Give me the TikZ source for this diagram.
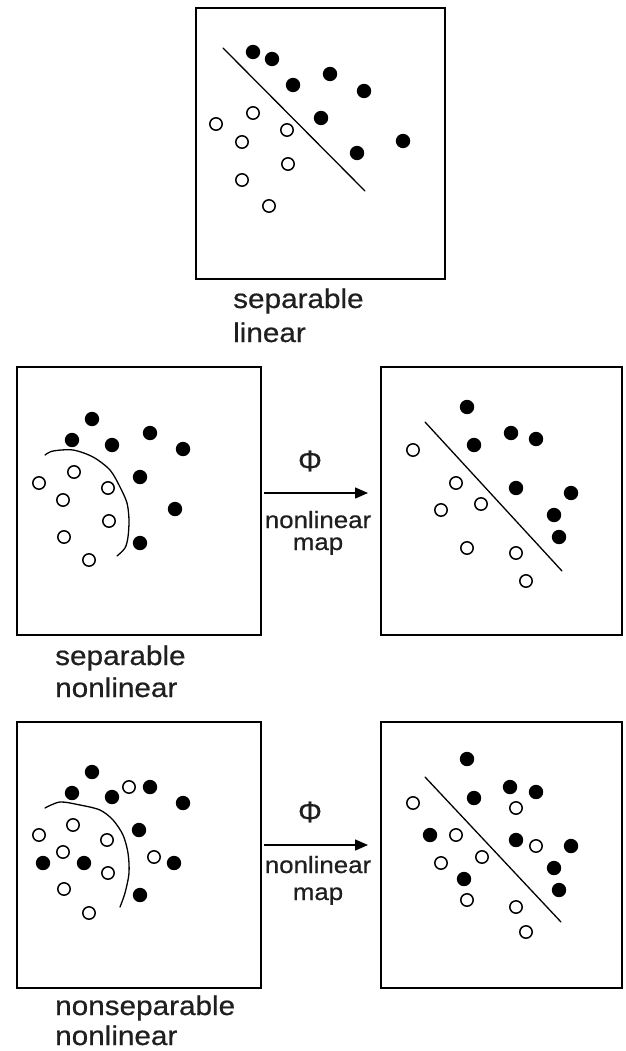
\documentclass[tikz,border=0pt]{standalone}
\usepackage{fontspec}
\setmainfont{Liberation Sans}
\newfontfamily\lblfont[FakeStretch=1.1,FakeBold=0.6]{Liberation Sans}
\newfontfamily\phifont[FakeBold=0.4]{Liberation Sans}
\usetikzlibrary{arrows.meta}
\begin{document}
\begin{tikzpicture}[x=1pt,y=-1pt,
  panel/.style={draw,line width=2pt,inner sep=0pt},
  lbl/.style={inner sep=0pt,anchor=base west,text=black!88,font=\lblfont\fontsize{27}{30}\selectfont},
  maplbl/.style={inner sep=0pt,anchor=base,text=black!88,font=\lblfont\fontsize{23.5}{26}\selectfont},
  philbl/.style={inner sep=0pt,text=black!88,font=\phifont\fontsize{30}{30}\selectfont},
  maparrow/.style={line width=1.5pt,-{Triangle[length=13pt,width=11pt]}},
  sepline/.style={line width=1.3pt,line cap=round},
  fdot/.style={fill=black},
  odot/.style={draw=black,line width=1.5pt,fill=white}]
\useasboundingbox (0,0) rectangle (625,1051);

% ---------- top panel ----------
\node[panel,minimum width=249pt,minimum height=271pt] (top) at (320.5,143.5) {};
\draw[sepline] (223,48) -- (365,191);
\foreach \p in {(253,52),(272,59),(293,85),(330,74),(364,91),(321,118),(357,153),(403,141)}
  \fill[fdot] \p circle (7.2pt);
\foreach \p in {(216,124),(253,113),(242,142),(287,130),(288,164),(242,180),(269,206)}
  \draw[odot] \p circle (6.2pt);
\node[lbl] (topA) at (233,308) {separable};
\node[lbl] (topB) at (233,342) {linear};

% ---------- middle row ----------
\node[panel,minimum width=244pt,minimum height=268pt] (ml) at (139,501) {};
\node[panel,minimum width=241pt,minimum height=268pt] (mr) at (501.5,501) {};
\draw[sepline] plot[smooth] coordinates {(45,455) (53,451) (73,450) (93,457) (110,470) (120,487) (127,503) (129,520) (128,537) (125,548) (117,556)};
\foreach \p in {(92,419),(72,440),(112,445),(150,433),(183,449),(140,477),(175,509),(140,543)}
  \fill[fdot] \p circle (7.2pt);
\foreach \p in {(39,483),(74,472),(63,500),(108,488),(109,521),(64,537),(89,560)}
  \draw[odot] \p circle (6.2pt);
\draw[sepline] (425,422) -- (562,571);
\foreach \p in {(467,407),(474,445),(511,433),(536,439),(516,488),(571,493),(554,515),(559,537)}
  \fill[fdot] \p circle (7.2pt);
\foreach \p in {(413,450),(456,483),(441,510),(481,504),(467,548),(516,553),(526,581)}
  \draw[odot] \p circle (6.2pt);
\draw[maparrow] ([xshift=2pt,yshift=8pt]ml.east) -- ([xshift=-12pt,yshift=8pt]mr.west);
\node[philbl] (phiM) at (310,461) {Φ};
\node[maplbl] (mapMa) at (318,528) {nonlinear};
\node[maplbl] (mapMb) at (318,550) {map};
\node[lbl] (mlA) at (55,665) {separable};
\node[lbl] (mlB) at (55,697) {nonlinear};

% ---------- bottom row ----------
\node[panel,minimum width=244pt,minimum height=266pt] (bl) at (139,855) {};
\node[panel,minimum width=241pt,minimum height=266pt] (br) at (501.5,855) {};
\draw[sepline] plot[smooth] coordinates {(45,808) (60,802) (80,805) (100,810) (113,820) (123,835) (128,853) (129,873) (125,893) (120,907)};
\foreach \p in {(92,772),(72,793),(112,797),(150,787),(183,803),(139,830),(43,863),(84,863),(174,863),(140,895)}
  \fill[fdot] \p circle (7.2pt);
\foreach \p in {(129,787),(39,835),(73,825),(63,852),(107,840),(108,873),(64,889),(89,913),(154,857)}
  \draw[odot] \p circle (6.2pt);
\draw[sepline] (425,777) -- (561,922);
\foreach \p in {(467,759),(474,798),(510,787),(536,792),(430,835),(516,840),(571,846),(554,868),(464,879),(559,890)}
  \fill[fdot] \p circle (7.2pt);
\foreach \p in {(413,803),(516,808),(456,835),(536,846),(441,863),(482,857),(467,900),(516,907),(526,932)}
  \draw[odot] \p circle (6.2pt);
\draw[maparrow] ([xshift=2pt,yshift=10pt]bl.east) -- ([xshift=-12pt,yshift=10pt]br.west);
\node[philbl] (phiB) at (310,812) {Φ};
\node[maplbl] (mapBa) at (318,873) {nonlinear};
\node[maplbl] (mapBb) at (318,900) {map};
\node[lbl] (blA) at (55,1015) {nonseparable};
\node[lbl] (blB) at (55,1045) {nonlinear};
\end{tikzpicture}
\end{document}
